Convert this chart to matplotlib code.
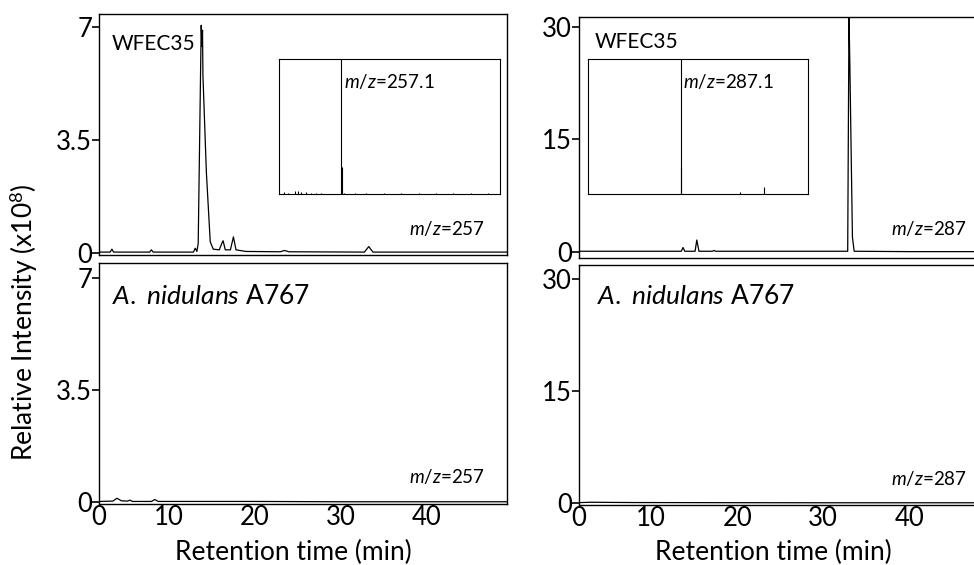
import matplotlib.pyplot as plt

plt.rcParams['font.family'] = ['Lato', 'DejaVu Sans']
plt.rcParams['mathtext.fontset'] = 'custom'
plt.rcParams['mathtext.rm'] = 'Lato'
plt.rcParams['mathtext.it'] = 'Lato:italic'

# chromatogram traces (retention time in min, intensity x10^8)
wfec_257_t = [1.9, 3.2, 3.4, 3.6, 7.8, 8.0, 8.2, 12.9, 13.1, 13.3, 13.45, 13.8, 13.88,
              13.95, 14.0, 14.4, 14.85, 15.2, 15.9, 16.2, 16.35, 16.6, 17.2, 17.55,
              17.85, 19.0, 23.0, 23.5, 24.0, 32.8, 33.3, 33.8, 40.0, 49.4]
wfec_257_y = [0.03, 0.03, 0.12, 0.03, 0.03, 0.1, 0.03, 0.03, 0.15, 0.05, 0.3, 7.05, 6.4,
              6.9, 5.5, 2.5, 0.35, 0.12, 0.1, 0.3, 0.38, 0.1, 0.1, 0.5,
              0.1, 0.05, 0.04, 0.08, 0.04, 0.03, 0.2, 0.03, 0.03, 0.03]

nid_257_t = [1.9, 3.5, 4.0, 4.5, 5.2, 5.5, 5.8, 8.0, 8.4, 8.8, 12.0, 20.0, 30.0, 40.0, 49.4]
nid_257_y = [0.02, 0.03, 0.12, 0.04, 0.03, 0.06, 0.02, 0.02, 0.08, 0.02, 0.02, 0.02, 0.01, 0.01, 0.01]

wfec_287_t = [1.6, 13.5, 13.7, 13.9, 15.1, 15.3, 15.55, 17.1, 17.3, 17.5, 32.85, 33.0,
              33.1, 33.4, 33.6, 40.0, 49.4]
wfec_287_y = [0.1, 0.1, 0.6, 0.1, 0.1, 1.6, 0.1, 0.1, 0.2, 0.1, 0.1, 31.5,
              25.0, 2.0, 0.1, 0.05, 0.05]

nid_287_t = [1.6, 3.0, 5.0, 8.0, 20.0, 30.0, 40.0, 49.4]
nid_287_y = [0.05, 0.1, 0.08, 0.06, 0.04, 0.03, 0.03, 0.03]

# inset mass spectra (m/z, relative abundance %)
ms_257_mz = [159, 166, 178, 183, 188, 196, 205, 214, 222, 257.1, 258.1, 262, 280, 300,
             330, 360, 390, 420, 450, 480, 510]
ms_257_ab = [1.5, 1.0, 2.5, 2.0, 1.5, 1.2, 1.0, 0.8, 0.8, 100, 20, 1.0, 0.6, 0.8,
             0.6, 0.6, 0.5, 0.6, 0.5, 0.5, 0.6]
ms_287_mz = [287.1, 288.1, 375, 410]
ms_287_ab = [100, 20, 1.2, 5.0]

W, H = 974, 565
BIG = 19
TICK = 18.5
MZ = 13.5
fig = plt.figure(figsize=(W / 100, H / 100), dpi=100)


def box(left, top, right, bottom):
    return [left / W, 1 - bottom / H, (right - left) / W, (bottom - top) / H]


panels = [
    (box(99, 14, 507, 255), wfec_257_t, wfec_257_y, (1.9, 49.4), (-0.06, 7.4), [0, 3.5, 7], ['0', '3.5', '7']),
    (box(99, 263, 507, 504), nid_257_t, nid_257_y, (1.9, 49.4), (-0.06, 7.47), [0, 3.5, 7], ['0', '3.5', '7']),
    (box(579, 17, 990, 258), wfec_287_t, wfec_287_y, (1.6, 49.4), (-0.8, 31.33), [0, 15, 30], ['0', '15', '30']),
    (box(579, 265, 990, 505), nid_287_t, nid_287_y, (1.6, 49.4), (-0.27, 31.9), [0, 15, 30], ['0', '15', '30']),
]

axes = []
for rect, t, y, xl, yl, yt, ytl in panels:
    ax = fig.add_axes(rect)
    ax.plot(t, y, color='black', lw=0.9)
    ax.set_xlim(xl)
    ax.set_ylim(yl)
    ax.set_yticks(yt)
    ax.set_yticklabels(ytl, fontsize=TICK)
    ax.tick_params(axis='y', length=5, width=1.2, pad=0, direction='out')
    for s in ax.spines.values():
        s.set_linewidth(1.0)
    axes.append(ax)

for i, ax in enumerate(axes):
    if i in (1, 3):
        ax.set_xticks([ax.get_xlim()[0], 10, 20, 30, 40])
        ax.set_xticklabels(['0', '10', '20', '30', '40'], fontsize=TICK)
        ax.tick_params(axis='x', length=0, pad=1)
    else:
        ax.set_xticks([])

# insets
for rect, mz, ab, xl, label in [
        (box(279, 59, 500, 194), ms_257_mz, ms_257_ab, (150, 530), '257.1'),
        (box(588, 59, 808, 194), ms_287_mz, ms_287_ab, (150, 475), '287.1')]:
    ins = fig.add_axes(rect)
    ins.vlines(mz, 0, ab, color='black', lw=0.8)
    ins.set_xlim(xl)
    ins.set_ylim(0, 100)
    ins.set_xticks([])
    ins.set_yticks([])
    px = mz[ab.index(100)]
    ins.text(px + (xl[1] - xl[0]) * 0.012, 83, r'$\it{m/z}$=' + label,
             fontsize=MZ, va='center', ha='left')


def ftext(x, y, s, **kw):
    fig.text(x / W, 1 - y / H, s, **kw)


ftext(112, 44, 'WFEC35', fontsize=15, va='center')
ftext(595, 42, 'WFEC35', fontsize=15, va='center')
ftext(112, 297, r'$\it{A.}$ $\it{nidulans}$ A767', fontsize=BIG, va='center')
ftext(597, 297, r'$\it{A.}$ $\it{nidulans}$ A767', fontsize=BIG, va='center')
for x, y in [(485, 228), (485, 476), (967, 228), (967, 478)]:
    ftext(x, y, r'$\it{m/z}$=' + ('257' if x < 500 else '287'), fontsize=MZ, ha='right', va='center')

ftext(293, 552, 'Retention time (min)', fontsize=BIG, ha='center', va='center')
ftext(773, 552, 'Retention time (min)', fontsize=BIG, ha='center', va='center')
ftext(24, 322, r'Relative Intensity (x10$^8$)', fontsize=BIG, ha='center', va='center', rotation=90)

fig.savefig('out.png', dpi=100)
